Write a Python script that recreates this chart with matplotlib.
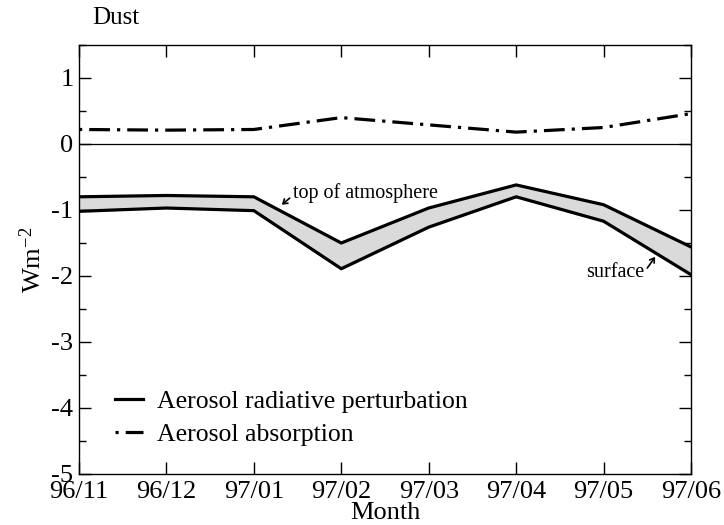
import numpy as np
import matplotlib
matplotlib.use("Agg")
import matplotlib.pyplot as plt
from matplotlib.ticker import MultipleLocator

plt.rcParams['font.family'] = ['Liberation Serif', 'DejaVu Serif']
plt.rcParams['mathtext.fontset'] = 'custom'
plt.rcParams['mathtext.rm'] = 'Liberation Serif'
plt.rcParams['mathtext.it'] = 'Liberation Serif:italic'

# data
months = ['96/11', '96/12', '97/01', '97/02', '97/03', '97/04', '97/05', '97/06']
toa = [-0.80, -0.78, -0.80, -1.50, -0.97, -0.62, -0.92, -1.56]
surface = [-1.02, -0.97, -1.01, -1.89, -1.26, -0.80, -1.17, -1.98]
absorption = [0.22, 0.21, 0.22, 0.40, 0.29, 0.18, 0.25, 0.46]

x = np.arange(len(months))

fig = plt.figure(figsize=(7.24, 5.25), dpi=100)
ax = fig.add_axes([79/724, 1-474/525, (691-79)/724, (474-45)/525])

ax.fill_between(x, surface, toa, color='#dadada', zorder=1)
ax.plot(x, toa, color='black', lw=2.3, zorder=3, label='Aerosol radiative perturbation')
ax.plot(x, surface, color='black', lw=2.3, zorder=3)
ax.plot(x, absorption, color='black', lw=2.3, dashes=(1, 2.2, 6.5, 2.2), zorder=3,
        label='Aerosol absorption')
ax.axhline(0, color='black', lw=0.9, zorder=2)

ax.set_xlim(0, len(months) - 1)
ax.set_ylim(-5, 1.5)
ax.set_xticks(x)
ax.set_xticklabels(months)
ax.set_yticks([-5, -4, -3, -2, -1, 0, 1])
ax.set_yticklabels(['-5', '-4', '-3', '-2', '-1', '0', '1'])
ax.yaxis.set_minor_locator(MultipleLocator(0.5))
ax.tick_params(which='both', direction='in', top=True, right=True, labelsize=19)
ax.tick_params(which='major', length=8.5, width=1)
ax.tick_params(which='minor', length=5, width=1)
ax.tick_params(axis='x', pad=5)
ax.tick_params(axis='y', pad=4)
for s in ax.spines.values():
    s.set_linewidth(1)

ax.set_xlabel('Month', fontsize=19, labelpad=-0.5)
ax.set_ylabel(r'Wm$^{-2}$', fontsize=19, labelpad=4)

fig.text(92/724, 1-18/525, 'Dust', fontsize=18, va='center', ha='left')

# labels with small arrows
ax.text(2.45, -0.74, 'top of atmosphere', fontsize=14.5, va='center', ha='left')
ax.annotate('', xy=(2.32, -0.92), xytext=(2.41, -0.82),
            arrowprops=dict(arrowstyle='->,head_length=0.3,head_width=0.2', lw=1.2,
                            color='black', shrinkA=0, shrinkB=0))
ax.text(6.13, -1.94, 'surface', fontsize=14.5, va='center', ha='center')
ax.annotate('', xy=(6.59, -1.71), xytext=(6.50, -1.88),
            arrowprops=dict(arrowstyle='->,head_length=0.3,head_width=0.2', lw=1.2,
                            color='black', shrinkA=0, shrinkB=0))

leg = ax.legend(loc='center left', bbox_to_anchor=(115/724, 1-418/525),
                bbox_transform=fig.transFigure, frameon=False, borderpad=0,
                borderaxespad=0, fontsize=18.5, handlelength=1.1,
                handletextpad=0.55, labelspacing=0.4)

fig.savefig('out.png', dpi=100)
